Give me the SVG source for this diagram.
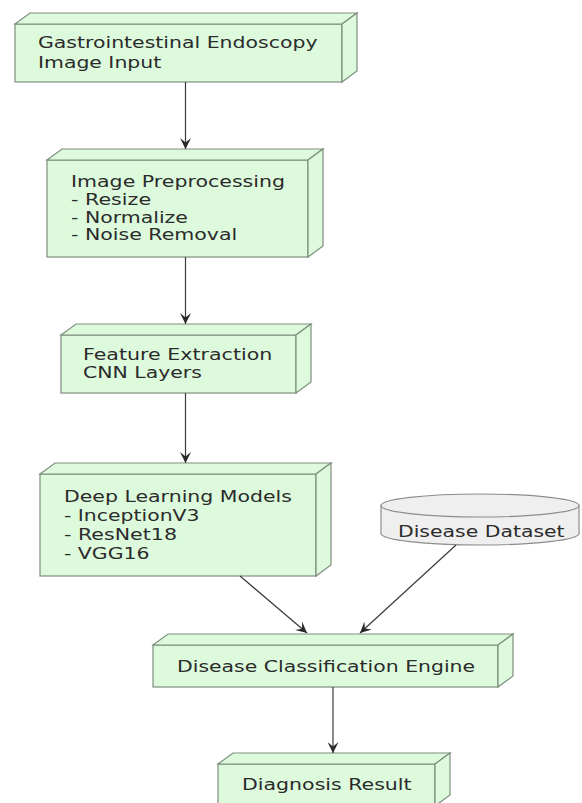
<svg xmlns="http://www.w3.org/2000/svg" width="582" height="803" viewBox="0 0 582 803">
  <defs>
    <marker id="arrow" viewBox="0 0 10 10" refX="10" refY="5" markerWidth="11" markerHeight="11" markerUnits="userSpaceOnUse" orient="auto">
      <path d="M0,0 L10,5 L0,10 L4,5 Z" fill="#2a2a2a"/>
    </marker>
  </defs>
  <style>
    .node rect, .node polygon { fill: #DDFADD; stroke: #7E8E7E; stroke-width: 1.2; }
    .db path { fill: #EFEFEF; stroke: #8C8C8C; stroke-width: 1.2; }
    .db path.lid { fill: none; }
    text { font-family: "DejaVu Sans", "Liberation Sans", sans-serif; font-size: 15px; fill: #2b2b2b; }
    .edge { fill: none; stroke: #3a3a3a; stroke-width: 1.2; marker-end: url(#arrow); }
  </style>
  <rect width="582" height="803" fill="#ffffff"/>

  <!-- nodes: front face, top face, side face -->
  <g id="input" class="node">
    <rect x="15" y="24" width="327" height="58"/>
    <polygon points="15,24 30,13 357,13 342,24"/>
    <polygon points="342,24 357,13 357,71 342,82"/>
    <text x="38" y="48" textLength="279.5" lengthAdjust="spacingAndGlyphs">Gastrointestinal Endoscopy</text>
    <text x="38" y="68" textLength="123.2" lengthAdjust="spacingAndGlyphs">Image Input</text>
  </g>

  <g id="preprocessing" class="node">
    <rect x="47" y="160" width="261" height="97"/>
    <polygon points="47,160 62,149 323,149 308,160"/>
    <polygon points="308,160 323,149 323,246 308,257"/>
    <text x="71" y="187" textLength="214" lengthAdjust="spacingAndGlyphs">Image Preprocessing</text>
    <text x="71" y="205" textLength="80.1" lengthAdjust="spacingAndGlyphs">- Resize</text>
    <text x="71" y="222.5" textLength="116.9" lengthAdjust="spacingAndGlyphs">- Normalize</text>
    <text x="71" y="240" textLength="166.2" lengthAdjust="spacingAndGlyphs">- Noise Removal</text>
  </g>

  <g id="features" class="node">
    <rect x="61" y="335" width="235" height="58"/>
    <polygon points="61,335 76,324 311,324 296,335"/>
    <polygon points="296,335 311,324 311,382 296,393"/>
    <text x="83" y="360" textLength="189.3" lengthAdjust="spacingAndGlyphs">Feature Extraction</text>
    <text x="83" y="378" textLength="118.8" lengthAdjust="spacingAndGlyphs">CNN Layers</text>
  </g>

  <g id="models" class="node">
    <rect x="40" y="474" width="276" height="102"/>
    <polygon points="40,474 55,463 331,463 316,474"/>
    <polygon points="316,474 331,463 331,565 316,576"/>
    <text x="64" y="502" textLength="227.9" lengthAdjust="spacingAndGlyphs">Deep Learning Models</text>
    <text x="64" y="521" textLength="135.5" lengthAdjust="spacingAndGlyphs">- InceptionV3</text>
    <text x="64" y="540" textLength="113" lengthAdjust="spacingAndGlyphs">- ResNet18</text>
    <text x="64" y="559" textLength="85.5" lengthAdjust="spacingAndGlyphs">- VGG16</text>
  </g>

  <g id="dataset" class="db">
    <path d="M381,505.5 A99,11.5 0 0 1 579,505.5 L579,533.5 A99,11.5 0 0 1 381,533.5 Z"/>
    <path class="lid" d="M381,505.5 A99,11.5 0 0 0 579,505.5"/>
    <text x="398" y="537" textLength="166.6" lengthAdjust="spacingAndGlyphs">Disease Dataset</text>
  </g>

  <g id="classifier" class="node">
    <rect x="153" y="645" width="345" height="42"/>
    <polygon points="153,645 168,634 513,634 498,645"/>
    <polygon points="498,645 513,634 513,676 498,687"/>
    <text x="177" y="672" textLength="298.1" lengthAdjust="spacingAndGlyphs">Disease Classification Engine</text>
  </g>

  <g id="result" class="node">
    <rect x="218" y="764" width="217" height="42"/>
    <polygon points="218,764 233,753 450,753 435,764"/>
    <polygon points="435,764 450,753 450,795 435,806"/>
    <text x="242" y="790" textLength="169.6" lengthAdjust="spacingAndGlyphs">Diagnosis Result</text>
  </g>

  <!-- connectors -->
  <g id="edges">
    <path class="edge" d="M185.5,82 L185.5,149"/>
    <path class="edge" d="M185.5,257 L185.5,324"/>
    <path class="edge" d="M185.5,393 L185.5,463"/>
    <path class="edge" d="M240,576 L307,633"/>
    <path class="edge" d="M456,545 L360,633"/>
    <path class="edge" d="M333,687 L333,753"/>
  </g>
</svg>
